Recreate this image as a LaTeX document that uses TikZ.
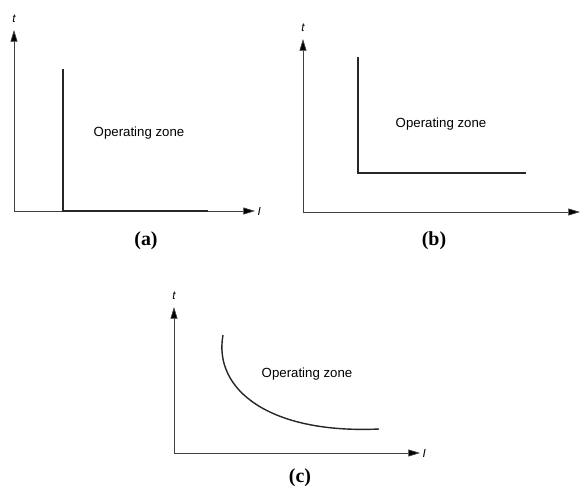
\documentclass[tikz,border=0pt]{standalone}
\usepackage{fontspec}
\setmainfont{Liberation Serif}
\setsansfont{Liberation Sans}
\usetikzlibrary{arrows.meta,positioning}

\begin{document}
\begin{tikzpicture}[x=0.03cm, y=-0.03cm,
    axis/.style={draw=black!75, line width=0.6pt, -{Triangle[length=10pt, width=6pt, fill=black]}},
    limit/.style={draw=black!85, line width=1.5pt},
    zone/.style={font=\sffamily\fontsize{11.3}{13}\selectfont},
    axlabel/.style={font=\sffamily\itshape\fontsize{10}{12}\selectfont, inner sep=1pt},
    caption/.style={font=\bfseries\fontsize{17}{19}\selectfont}]

  \useasboundingbox (0,0) rectangle (581,492);

  % (a) instantaneous
  \coordinate (Oa) at (14,211);
  \coordinate (Ta) at (14,30);
  \coordinate (Ia) at (255,211);
  \coordinate (Va) at (63,69);
  \coordinate (Ca) at (63,211);
  \coordinate (Ea) at (208,211);
  \draw[axis] (Oa) -- (Ta);
  \draw[axis] (Oa) -- (Ia);
  \draw[limit] (Va) -- (Ca) -- (Ea);
  \node[axlabel, above=5pt of Ta] (ta) {t};
  \node[axlabel, right=1pt of Ia] (ia) {I};
  \node[zone] (Za) at (139,133) {Operating zone};
  \node[caption] (La) at (146,241) {(a)};

  % (b) definite time
  \coordinate (Ob) at (303,212);
  \coordinate (Tb) at (303,39);
  \coordinate (Ib) at (580,212);
  \coordinate (Vb) at (358,57);
  \coordinate (Cb) at (358,173);
  \coordinate (Eb) at (526,173);
  \draw[axis] (Ob) -- (Tb);
  \draw[axis] (Ob) -- (Ib);
  \draw[limit] (Vb) -- (Cb) -- (Eb);
  \node[axlabel, above=5pt of Tb] (tb) {t};
  \node[zone] (Zb) at (441,124) {Operating zone};
  \node[caption] (Lb) at (434,241) {(b)};

  % (c) inverse time
  \coordinate (Oc) at (174,453);
  \coordinate (Tc) at (174,307);
  \coordinate (Ic) at (420,453);
  \coordinate (Sc) at (223,335);
  \coordinate (Ec) at (379,429);
  \draw[axis] (Oc) -- (Tc);
  \draw[axis] (Oc) -- (Ic);
  \draw[limit, line width=1.2pt] (Sc) .. controls (213,390) and (270,434) .. (Ec);
  \node[axlabel, above=5pt of Tc] (tc) {t};
  \node[axlabel, right=1pt of Ic] (ic) {I};
  \node[zone] (Zc) at (307,374) {Operating zone};
  \node[caption] (Lc) at (300,478) {(c)};
\end{tikzpicture}
\end{document}
